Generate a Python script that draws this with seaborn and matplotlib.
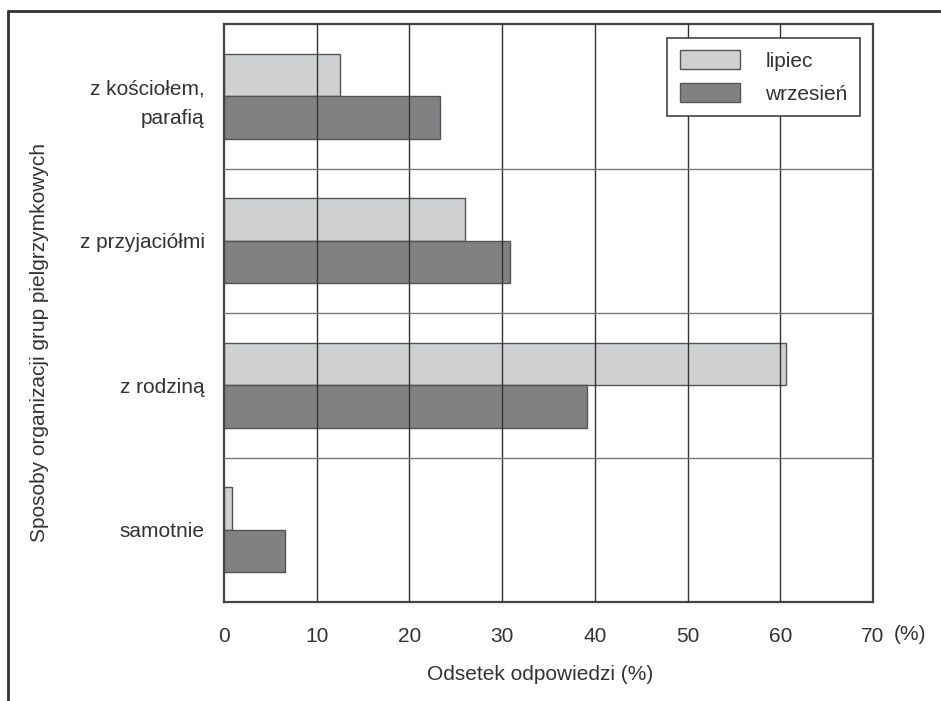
import pandas as pd
import seaborn as sns
import matplotlib.pyplot as plt
from matplotlib.lines import Line2D

# dane
kategorie = ['z kościołem,\nparafią', 'z przyjaciółmi', 'z rodziną', 'samotnie']
lipiec = [12.5, 26.0, 60.6, 0.9]
wrzesien = [23.3, 30.8, 39.2, 6.6]
miesiace = ['lipiec', 'wrzesień']
xticks = [0, 10, 20, 30, 40, 50, 60, 70]

df = pd.DataFrame({
    'kategoria': kategorie * 2,
    'odsetek': lipiec + wrzesien,
    'miesiac': [miesiace[0]] * 4 + [miesiace[1]] * 4,
})

sns.set_theme(style='white')
plt.rcParams['font.family'] = ['Liberation Sans Narrow', 'Liberation Sans', 'DejaVu Sans']
txt = '#333333'

fig = plt.figure(figsize=(9.41, 7.01), dpi=100)
ax = fig.add_axes([224/941, 1-602/701, (873-224)/941, (602-24)/701])

sns.barplot(data=df, y='kategoria', x='odsetek', hue='miesiac', orient='h',
            palette=['#d0d1d3', '#808184'], edgecolor='#555555', linewidth=1,
            width=0.59, ax=ax, order=kategorie, hue_order=miesiace)

ax.set_xlim(0, 70)
ax.set_ylim(3.5, -0.5)
for x in xticks[1:-1]:
    ax.axvline(x, color='#333333', lw=1, zorder=3)
for y in [0.5, 1.5, 2.5]:
    ax.axhline(y, color='#777777', lw=1, zorder=3)

ax.set_xticks(xticks)
ax.set_xticklabels([str(t) for t in xticks])
ax.tick_params(axis='x', length=0, pad=18, labelsize=15, labelcolor=txt)
ax.tick_params(axis='y', length=0, pad=14, labelsize=15, labelcolor=txt)
for lab in ax.get_yticklabels():
    lab.set_horizontalalignment('right')
    lab.set_multialignment('right')
    lab.set_linespacing(1.75)
ax.set_xlabel('')
ax.set_ylabel('')
for s in ax.spines.values():
    s.set_color('#444444')
    s.set_linewidth(1.6)

leg = ax.legend(loc='upper right', bbox_to_anchor=(0.98, 0.976), borderaxespad=0,
                fontsize=15, frameon=True, fancybox=False, framealpha=1,
                handlelength=2.9, handleheight=1.0, handletextpad=1.2,
                labelspacing=0.6, borderpad=0.6)
leg.get_frame().set_edgecolor('#444444')
leg.get_frame().set_linewidth(1.2)
leg.set_zorder(5)
for t in leg.get_texts():
    t.set_color(txt)

fig.text(910/941, 1-634/701, '(%)', ha='center', va='center', fontsize=15, color=txt)
fig.text(540/941, 1-675/701, 'Odsetek odpowiedzi (%)', ha='center', va='center',
         fontsize=15, color=txt)
fig.text(40/941, 1-342/701, 'Sposoby organizacji grup pielgrzymkowych', ha='center',
         va='center', rotation=90, fontsize=15, color=txt)

# ramka wokół rysunku
fig.add_artist(Line2D([8/941, 1], [1-11/701, 1-11/701], color='#333333', lw=2))
fig.add_artist(Line2D([8/941, 8/941], [0, 1-11/701], color='#333333', lw=2))

fig.savefig('out.png', dpi=100)
